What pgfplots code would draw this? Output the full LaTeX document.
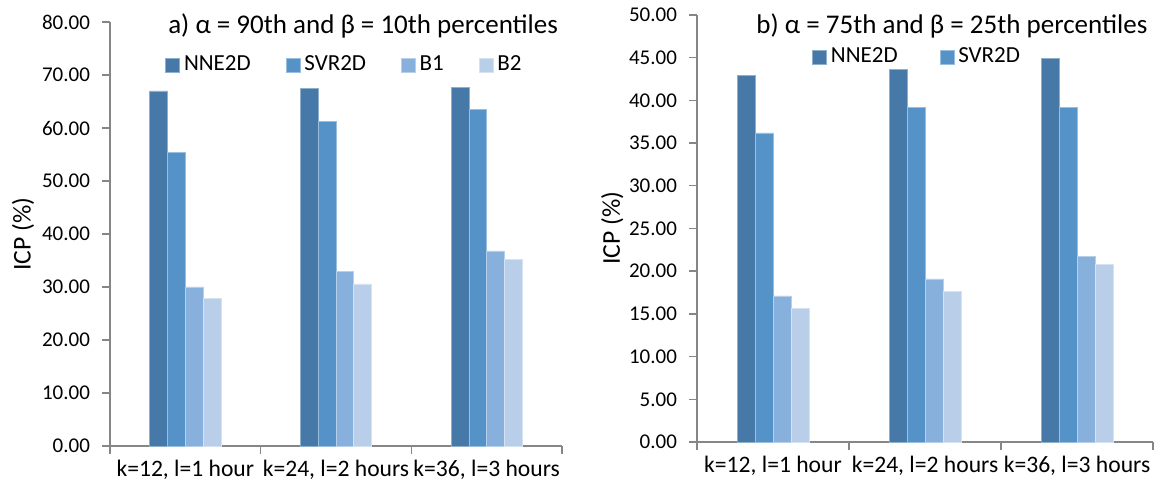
\documentclass[border=0pt]{standalone}
\usepackage{pgfplots}
\usepackage{pgfplotstable}
\pgfplotsset{compat=1.18}
\usepackage{fontspec}
\setmainfont{Carlito}
\definecolor{cA}{HTML}{4679A7}
\definecolor{cB}{HTML}{5592C8}
\definecolor{cC}{HTML}{87B0DC}
\definecolor{cD}{HTML}{B9CEE8}
\definecolor{axgray}{HTML}{868686}

\pgfplotstableread{
x nne svr b1 b2
0 67.0 55.4 30.0 27.8
1 67.4 61.2 33.0 30.6
2 67.6 63.5 36.8 35.2
}\tabA
\pgfplotstableread{
x nne svr b1 b2
0 42.9 36.2 17.1 15.6
1 43.6 39.2 19.1 17.6
2 44.9 39.2 21.7 20.8
}\tabB

\pgfplotsset{
 myaxis/.style={
  scale only axis,
  ybar=0pt,
  bar width=0.118,
  xmin=-0.5, xmax=2.5,
  ymin=0,
  clip=false,
  axis x line*=bottom, axis y line*=left,
  axis line style={draw=axgray, line width=0.7pt, -},
  tick style={draw=axgray, line width=0.7pt},
  tick align=outside,
  major tick length=4pt,
  minor tick num=0,
  xtick={-0.5,0.5,1.5,2.5},
  xticklabels={,,,},
  extra x ticks={0,1,2},
  extra x tick labels={{k=12, l=1 hour},{k=24, l=2 hours},{k=36, l=3 hours}},
  extra x tick style={major tick length=0pt, tick style={draw=none}},
  xticklabel style={font=\fontsize{11.8}{14}\selectfont, yshift=-3.5pt},
  yticklabel style={font=\fontsize{10.5}{12}\selectfont, xshift=-2.5pt},
  /pgf/number format/.cd, fixed, fixed zerofill, precision=2, assume math mode=true,
  /pgfplots/.cd,
  ylabel={ICP (\%)},
  legend image code/.code={\fill[##1] (0pt,-3.5pt) rectangle (7pt,3.5pt);},
 }
}

\begin{document}
\begin{tikzpicture}
\begin{axis}[myaxis,
  at={(55pt,22.5pt)}, anchor=south west,
  width=226pt, height=212pt,
  ymax=80, ytick={0,10,...,80},
  ylabel style={font=\fontsize{12.8}{15}\selectfont, at={(axis description cs:-0.1925,0.5)}, anchor=center},
  legend style={draw=none, fill=none, inner sep=0pt, legend columns=4,
    /tikz/every even column/.append style={column sep=15.5pt},
    font=\fontsize{11.5}{13}\selectfont, at={(0.1217,0.8986)}, anchor=west},
]
\addplot[fill=cA, draw=cA!60!white, line width=0.3pt] table[x=x,y=nne] {\tabA};
\addplot[fill=cB, draw=cB!60!white, line width=0.3pt] table[x=x,y=svr] {\tabA};
\addplot[fill=cC, draw=cC!60!white, line width=0.3pt] table[x=x,y=b1] {\tabA};
\addplot[fill=cD, draw=cD!60!white, line width=0.3pt] table[x=x,y=b2] {\tabA};
\legend{NNE2D,SVR2D,B1,B2}
\node[font=\fontsize{13.5}{16}\selectfont, anchor=base] at (rel axis cs:0.56,0.974) {a) α = 90th and β = 10th percentiles};
\end{axis}

\begin{axis}[myaxis,
  at={(348.5pt,24.5pt)}, anchor=south west,
  width=228pt, height=213.5pt,
  ymax=50, ytick={0,5,...,50},
  ylabel style={font=\fontsize{12.8}{15}\selectfont, at={(axis description cs:-0.186,0.501)}, anchor=center},
  legend style={draw=none, fill=none, inner sep=0pt, legend columns=2,
    /tikz/every even column/.append style={column sep=19pt},
    font=\fontsize{11.5}{13}\selectfont, at={(0.252,0.9016)}, anchor=west},
]
\addplot[fill=cA, draw=cA!60!white, line width=0.3pt] table[x=x,y=nne] {\tabB};
\addplot[fill=cB, draw=cB!60!white, line width=0.3pt] table[x=x,y=svr] {\tabB};
\addplot[fill=cC, draw=cC!60!white, line width=0.3pt] table[x=x,y=b1] {\tabB};
\addplot[fill=cD, draw=cD!60!white, line width=0.3pt] table[x=x,y=b2] {\tabB};
\legend{NNE2D,SVR2D}
\node[font=\fontsize{13.5}{16}\selectfont, anchor=base] at (rel axis cs:0.559,0.9555) {b) α = 75th and β = 25th percentiles};
\end{axis}
\pgfresetboundingbox
\path (0,0) rectangle (578pt,245.5pt);
\end{tikzpicture}
\end{document}
